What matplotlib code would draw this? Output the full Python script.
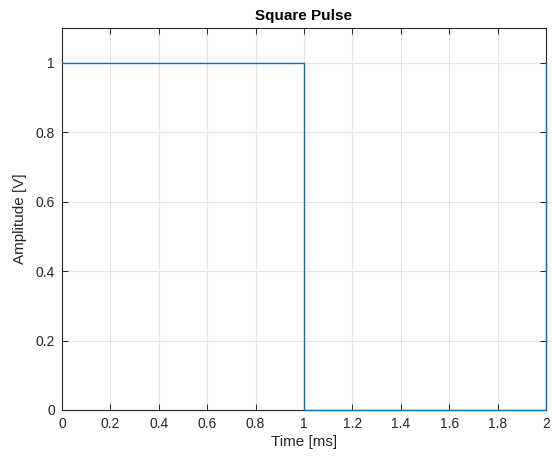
import matplotlib
import matplotlib.pyplot as plt
import numpy as np

matplotlib.use("Agg")

# Square pulse: high for the first millisecond, low for the second,
# rising again at the start of the next period
t_ms = [0.0, 1.0, 1.0, 2.0, 2.0]
amplitude = [1.0, 1.0, 0.0, 0.0, 1.0]

x_ticks = np.round(np.arange(0, 2.01, 0.2), 1)
y_ticks = np.round(np.arange(0, 1.01, 0.2), 1)

AXIS_COLOR = "#262626"
LINE_COLOR = "#0072BD"

plt.rcParams["font.family"] = ["Liberation Sans", "DejaVu Sans"]

fig = plt.figure(figsize=(5.53, 4.62), dpi=100)
ax = fig.add_axes([0.1121, 0.1126, 0.8752, 0.8268])

# drawn over the box so the low level and the edge at 2 ms stay visible
ax.plot(t_ms, amplitude, color=LINE_COLOR, lw=1.0, zorder=5, clip_on=False)

ax.set_xlim(0, 2)
ax.set_ylim(0, 1.1)
ax.set_xticks(x_ticks)
ax.set_yticks(y_ticks)
ax.set_xticklabels([f"{v:g}" for v in x_ticks])
ax.set_yticklabels([f"{v:g}" for v in y_ticks])

ax.grid(True, color="#e3e3e3", lw=0.8)
ax.set_axisbelow(True)
ax.tick_params(direction="in", top=True, right=True, length=4, width=0.7,
               colors=AXIS_COLOR, labelsize=10, pad=5)
for spine in ax.spines.values():
    spine.set_color(AXIS_COLOR)
    spine.set_linewidth(0.8)

ax.set_xlabel("Time [ms]", fontsize=11, color=AXIS_COLOR, labelpad=3)
ax.set_ylabel("Amplitude [V]", fontsize=11, color=AXIS_COLOR, labelpad=6)
ax.set_title("Square Pulse", fontsize=11, fontweight="bold", color="black", pad=6)

fig.savefig("out.png", dpi=100)
